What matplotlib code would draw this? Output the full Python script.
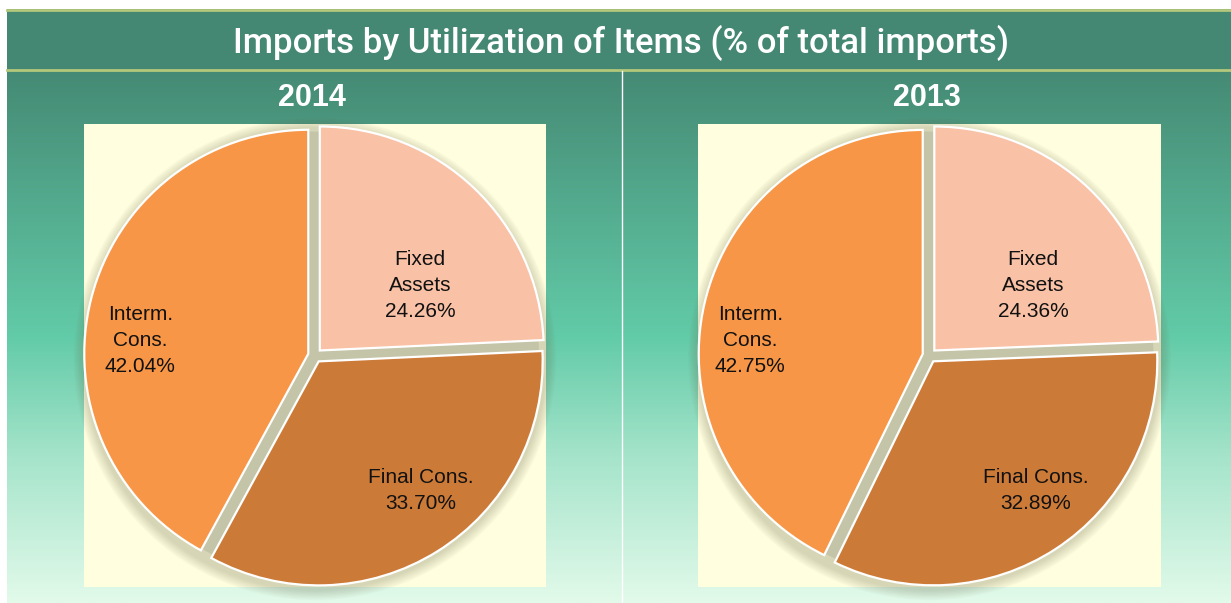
import numpy as np
import matplotlib
matplotlib.use("Agg")
import matplotlib.pyplot as plt
from matplotlib.colors import LinearSegmentedColormap
from matplotlib.patches import Circle, Rectangle

# ---- data ----
title = "Imports by Utilization of Items (% of total imports)"
years = ["2014", "2013"]
categories = ["Fixed\nAssets", "Final Cons.", "Interm.\nCons."]
values_2014 = [24.26, 33.70, 42.04]
values_2013 = [24.36, 32.89, 42.75]
colors = ["#F9C1A6", "#CC7A37", "#F79646"]

W, H = 1231, 603
fig = plt.figure(figsize=(W / 100, H / 100), dpi=100)
fig.patch.set_facecolor("white")

# background axes in pixel coords (y downward)
bg = fig.add_axes([0, 0, 1, 1])
bg.set_xlim(0, W)
bg.set_ylim(H, 0)
bg.axis("off")

grad = LinearSegmentedColormap.from_list(
    "g", [(0.0, "#458a74"), (0.50, "#62cba8"), (0.73, "#a6e4cb"), (1.0, "#e2faea")])
gy = np.linspace(0, 1, 400).reshape(-1, 1)
bg.imshow(gy, cmap=grad, extent=[7, W, H, 70], aspect="auto", zorder=0)
bg.add_patch(Rectangle((7, 9), W - 7, 61, facecolor="#448772", edgecolor="none", zorder=1))
bg.plot([7, W], [9.5, 9.5], color="#b3c87a", lw=2, zorder=2)
bg.plot([7, W], [70, 70], color="#b3c87a", lw=2, zorder=2)
bg.plot([621.5, 621.5], [71, H], color="white", lw=1, zorder=2)
bg.text(621, 43, title, color="white", fontsize=25, fontweight="medium",
        family=["Roboto", "Liberation Sans"], ha="center", va="center", zorder=3)

boxes = [(84, 124, 546, 587), (698, 124, 1161, 587)]
label_pos = [[(0.469, 0.313), (0.473, -0.603), (-0.78, 0.067)],
             [(0.462, 0.313), (0.475, -0.603), (-0.80, 0.067)]]
series = [values_2014, values_2013]
R = 224.0

for (x0, y0, x1, y1), year, vals, lpos in zip(boxes, years, series, label_pos):
    bg.text((x0 + x1) / 2 - 3, 98, year, color="white", fontsize=22, fontweight="bold",
            family="Liberation Sans", ha="center", va="center", zorder=3)
    ax = fig.add_axes([x0 / W, 1 - y1 / H, (x1 - x0) / W, (y1 - y0) / H])
    half_w = (x1 - x0) / 2 / R
    half_h = (y1 - y0) / 2 / R
    # soft shadow
    for k in range(8):
        r = 1.035 + k * 0.006
        ax.add_patch(Circle((0, -0.015), r, facecolor="#6a6a4a", edgecolor="none",
                            alpha=0.035, zorder=1, clip_on=False))
    ax.add_patch(Circle((0, 0), 1.0, facecolor="#c4c4a9", edgecolor="none", zorder=2))
    wedges, _ = ax.pie(vals, colors=colors, startangle=90, counterclock=False,
                       explode=[0.031] * 3, radius=1.0,
                       wedgeprops=dict(edgecolor="white", linewidth=1.6))
    for w in wedges:
        w.set_zorder(3)
    ax.set_frame_on(True)
    ax.patch.set_visible(True)
    ax.set_facecolor("#FFFFDF")
    for s in ax.spines.values():
        s.set_visible(False)
    ax.set_xticks([]); ax.set_yticks([])
    ax.set_aspect("equal")
    ax.set_xlim(-half_w, half_w)
    ax.set_ylim(-half_h, half_h)
    for cat, v, (lx, ly) in zip(categories, vals, lpos):
        ax.text(lx, ly, f"{cat}\n{v:.2f}%", ha="center", va="center", fontsize=15,
                family="Liberation Sans", color="#111111", linespacing=1.45, zorder=5)

fig.savefig("out.png", dpi=100, facecolor="white")
